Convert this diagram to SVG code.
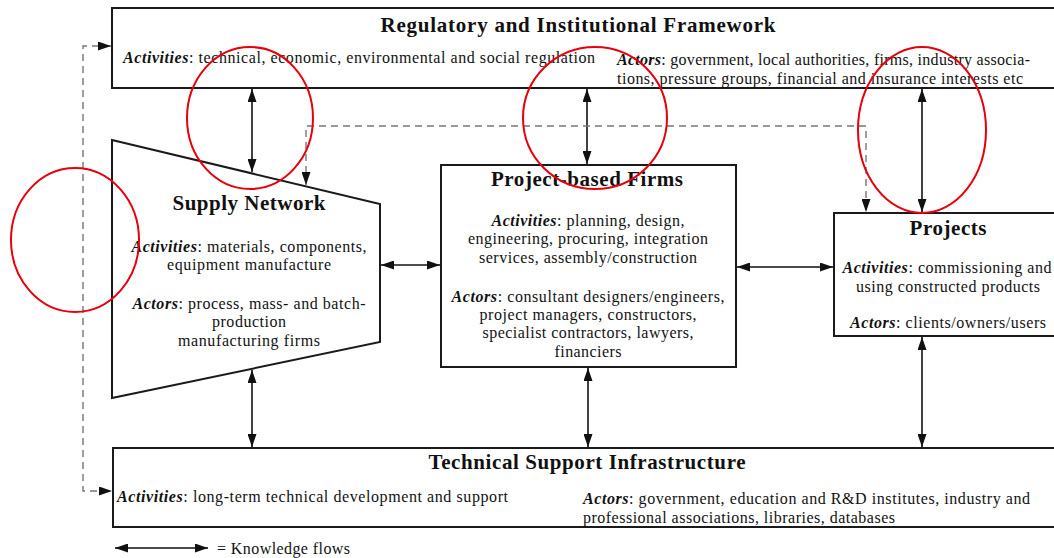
<svg xmlns="http://www.w3.org/2000/svg" width="1054" height="558" viewBox="0 0 1054 558">
<style>
.box{fill:#fff;stroke:#1a1a1a;stroke-width:2}
.t{font-family:"Liberation Serif","Times New Roman",serif;font-weight:bold;font-size:21px;fill:#111}
.b{font-family:"Liberation Serif","Times New Roman",serif;font-size:16px;fill:#111}
.k{font-style:italic;font-weight:bold}
.c{text-anchor:middle}
.ar{fill:none;stroke:#111;stroke-width:1.6;marker-start:url(#ah);marker-end:url(#ah)}
.dash{fill:none;stroke:#777;stroke-width:1.4;stroke-dasharray:7 5;marker-start:url(#ah);marker-end:url(#ah)}
.red{fill:none;stroke:#e8000b;stroke-width:2}
</style>
<defs>
<marker id="ah" viewBox="0 0 13 9" refX="13" refY="4.5" markerWidth="13" markerHeight="9" orient="auto-start-reverse" markerUnits="userSpaceOnUse"><path d="M0,0 L13,4.5 L0,9 z" fill="#111"/></marker>
</defs>
<rect width="1054" height="558" fill="#fff"/>

<g id="regulatory">
<rect class="box" x="112" y="8" width="960" height="80"/>
<text class="t c" x="578" y="32" textLength="395" lengthAdjust="spacing">Regulatory and Institutional Framework</text>
<text class="b" x="123" y="63" textLength="472" lengthAdjust="spacing"><tspan class="k">Activities</tspan>: technical, economic, environmental and social regulation</text>
<text class="b" x="617" y="65" textLength="413" lengthAdjust="spacing"><tspan class="k">Actors</tspan>: government, local authorities, firms, industry associa-</text>
<text class="b" x="617" y="84" textLength="406" lengthAdjust="spacing">tions, pressure groups, financial and insurance interests etc</text>
</g>

<g id="supply">
<polygon class="box" points="112,140 380,204 380,342 112,398"/>
<text class="t c" x="249" y="210" textLength="153" lengthAdjust="spacing">Supply Network</text>
<text class="b c" x="249" y="252" textLength="235" lengthAdjust="spacing"><tspan class="k">Activities</tspan>: materials, components,</text>
<text class="b c" x="249" y="270" textLength="164" lengthAdjust="spacing">equipment manufacture</text>
<text class="b c" x="249" y="309" textLength="233" lengthAdjust="spacing"><tspan class="k">Actors</tspan>: process, mass- and batch-</text>
<text class="b c" x="249" y="327" textLength="74" lengthAdjust="spacing">production</text>
<text class="b c" x="249" y="346" textLength="142" lengthAdjust="spacing">manufacturing firms</text>
</g>

<g id="firms">
<rect class="box" x="441" y="165" width="295" height="202"/>
<text class="t c" x="587" y="186" textLength="192" lengthAdjust="spacing">Project-based Firms</text>
<text class="b c" x="588" y="226" textLength="193" lengthAdjust="spacing"><tspan class="k">Activities</tspan>: planning, design,</text>
<text class="b c" x="588" y="244" textLength="240" lengthAdjust="spacing">engineering, procuring, integration</text>
<text class="b c" x="588" y="263" textLength="218" lengthAdjust="spacing">services, assembly/construction</text>
<text class="b c" x="588" y="302" textLength="273" lengthAdjust="spacing"><tspan class="k">Actors</tspan>: consultant designers/engineers,</text>
<text class="b c" x="588" y="320" textLength="217" lengthAdjust="spacing">project managers, constructors,</text>
<text class="b c" x="588" y="338" textLength="211" lengthAdjust="spacing">specialist contractors, lawyers,</text>
<text class="b c" x="588" y="357" textLength="67" lengthAdjust="spacing">financiers</text>
</g>

<g id="projects">
<rect class="box" x="834" y="213" width="240" height="123"/>
<text class="t c" x="948" y="235" textLength="77" lengthAdjust="spacing">Projects</text>
<text class="b c" x="947" y="273" textLength="209" lengthAdjust="spacing"><tspan class="k">Activities</tspan>: commissioning and</text>
<text class="b c" x="948" y="292" textLength="184" lengthAdjust="spacing">using constructed products</text>
<text class="b c" x="948" y="328" textLength="196" lengthAdjust="spacing"><tspan class="k">Actors</tspan>: clients/owners/users</text>
</g>

<g id="technical">
<rect class="box" x="113" y="448" width="960" height="79"/>
<text class="t c" x="587" y="469" textLength="317" lengthAdjust="spacing">Technical Support Infrastructure</text>
<text class="b" x="117" y="502" textLength="391" lengthAdjust="spacing"><tspan class="k">Activities</tspan>: long-term technical development and support</text>
<text class="b" x="583" y="504" textLength="447" lengthAdjust="spacing"><tspan class="k">Actors</tspan>: government, education and R&amp;D institutes, industry and</text>
<text class="b" x="583" y="523" textLength="312" lengthAdjust="spacing">professional associations, libraries, databases</text>
</g>

<g id="connectors">
<line class="ar" x1="252" y1="89" x2="252" y2="172"/>
<line class="ar" x1="587" y1="89" x2="587" y2="164"/>
<line class="ar" x1="922" y1="89" x2="922" y2="212"/>
<line class="ar" x1="381" y1="265" x2="440" y2="265"/>
<line class="ar" x1="737" y1="267" x2="833" y2="267"/>
<line class="ar" x1="252" y1="370" x2="252" y2="447"/>
<line class="ar" x1="588" y1="368" x2="588" y2="447"/>
<line class="ar" x1="922" y1="337" x2="922" y2="447"/>
<path class="dash" d="M306,185 V126 H866 V212"/>
<path class="dash" d="M111,46 H83 V491 H112"/>
</g>

<g id="legend">
<line class="ar" x1="115" y1="548" x2="208" y2="548"/>
<text class="b" x="217" y="554" textLength="133" lengthAdjust="spacing">= Knowledge flows</text>
</g>

<g id="annotations">
<ellipse class="red" cx="250" cy="118" rx="63" ry="71"/>
<ellipse class="red" cx="595" cy="118" rx="72" ry="71"/>
<ellipse class="red" cx="922" cy="130" rx="64" ry="83"/>
<ellipse class="red" cx="75" cy="240" rx="64" ry="72"/>
</g>
</svg>
